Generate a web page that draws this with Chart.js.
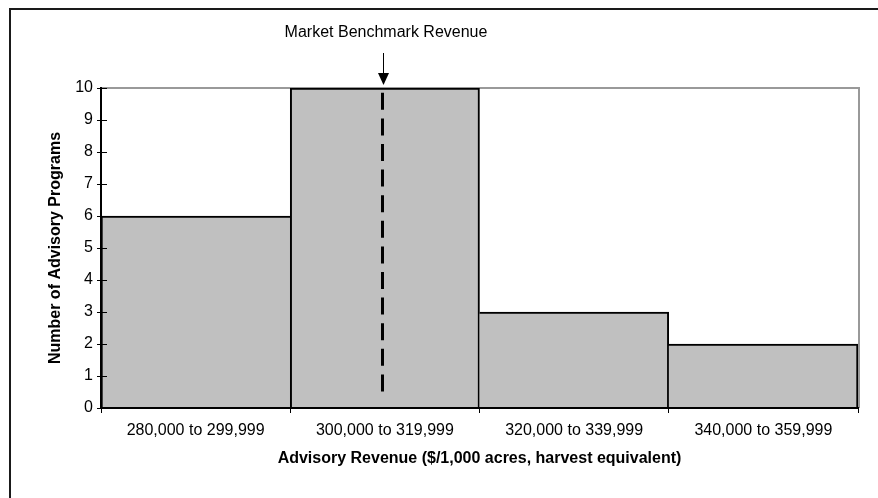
<!DOCTYPE html>
<html>
<head>
<meta charset="utf-8">
<script src="https://cdn.jsdelivr.net/npm/chart.js@4/dist/chart.umd.min.js"></script>
<style>
  html, body { margin: 0; padding: 0; background: #ffffff; }
  #wrap { width: 878px; height: 498px; }
</style>
</head>
<body>
<div id="wrap"><canvas id="c" width="878" height="498"></canvas></div>
<script>
// ---- data ----
const binLabels = ['280,000 to 299,999', '300,000 to 319,999', '320,000 to 339,999', '340,000 to 359,999'];
const programCounts = [6, 10, 3, 2];
const revenueRange = [280000, 360000];
const yRange = [0, 10];
const benchmarkRevenue = 309800;
const benchmarkLineY = [9.85, 0.5];
const benchmarkLabel = 'Market Benchmark Revenue';
const xTitle = 'Advisory Revenue ($/1,000 acres, harvest equivalent)';
const yTitle = 'Number of Advisory Programs';

const FONT = '"Liberation Sans", Arial, Helvetica, sans-serif';

// position of a revenue value on the category scale (bin i is centred on index i)
function revenueToIndex(v) {
  const binWidth = (revenueRange[1] - revenueRange[0]) / binLabels.length;
  return (v - revenueRange[0]) / binWidth - 0.5;
}

const frame = {
  id: 'frame',
  beforeDraw(chart) {
    const ctx = chart.ctx;
    ctx.save();
    ctx.fillStyle = '#ffffff';
    ctx.fillRect(0, 0, chart.width, chart.height);
    ctx.strokeStyle = '#1a1a1a';
    ctx.lineWidth = 2;
    ctx.beginPath();
    ctx.moveTo(10, chart.height);
    ctx.lineTo(10, 9);
    ctx.lineTo(chart.width, 9);
    ctx.stroke();
    ctx.restore();
  },
  beforeDatasetsDraw(chart) {
    const ctx = chart.ctx, a = chart.chartArea;
    ctx.save();
    ctx.strokeStyle = '#999999';
    ctx.lineWidth = 2;
    ctx.beginPath();
    ctx.moveTo(a.left, a.top);
    ctx.lineTo(a.right + 1, a.top);
    ctx.lineTo(a.right + 1, a.bottom);
    ctx.stroke();
    ctx.restore();
  },
  afterDatasetsDraw(chart) {
    const ctx = chart.ctx, a = chart.chartArea, ys = chart.scales.y, xs = chart.scales.x;
    ctx.save();
    // inner half of the crossing y ticks
    ctx.strokeStyle = '#000000';
    ctx.lineWidth = 1;
    ys.ticks.forEach(t => {
      const py = Math.round(ys.getPixelForValue(t.value)) + 0.5;
      ctx.beginPath();
      ctx.moveTo(a.left, py);
      ctx.lineTo(a.left + 6, py);
      ctx.stroke();
    });
    // dashed benchmark line
    const bx = Math.round(xs.getPixelForValue(revenueToIndex(benchmarkRevenue)));
    ctx.lineWidth = 3;
    ctx.lineCap = 'butt';
    ctx.setLineDash([17, 8.6]);
    ctx.beginPath();
    ctx.moveTo(bx - 0.5, ys.getPixelForValue(benchmarkLineY[0]));
    ctx.lineTo(bx - 0.5, ys.getPixelForValue(benchmarkLineY[1]));
    ctx.stroke();
    ctx.restore();
  },
  afterDraw(chart) {
    const ctx = chart.ctx, a = chart.chartArea;
    const bx = Math.round(chart.scales.x.getPixelForValue(revenueToIndex(benchmarkRevenue))) + 0.5;
    ctx.save();
    ctx.strokeStyle = '#000000';
    ctx.fillStyle = '#000000';
    ctx.lineWidth = 1;
    ctx.beginPath();
    ctx.moveTo(bx, a.top - 35);
    ctx.lineTo(bx, a.top - 14);
    ctx.stroke();
    ctx.beginPath();
    ctx.moveTo(bx - 5.5, a.top - 15);
    ctx.lineTo(bx + 5.5, a.top - 15);
    ctx.lineTo(bx, a.top - 3);
    ctx.closePath();
    ctx.fill();
    ctx.font = '16px ' + FONT;
    ctx.textAlign = 'center';
    ctx.textBaseline = 'alphabetic';
    ctx.fillText(benchmarkLabel, bx + 2.5, a.top - 51);
    ctx.restore();
  }
};

new Chart(document.getElementById('c'), {
  type: 'bar',
  data: {
    labels: binLabels,
    datasets: [
      {
        data: programCounts,
        backgroundColor: '#c0c0c0',
        borderColor: '#000000',
        borderWidth: (c) => {
          const i = c.dataIndex, v = programCounts;
          return {
            top: 2,
            bottom: 0,
            left: (i === 0 || v[i] > v[i - 1]) ? 2 : 0,
            right: (i === v.length - 1 || v[i] >= v[i + 1]) ? 2 : 0
          };
        },
        borderSkipped: 'start',
        barPercentage: 1,
        categoryPercentage: 1
      }
    ]
  },
  options: {
    responsive: false,
    animation: false,
    devicePixelRatio: 1,
    layout: { padding: { left: 46.4, right: 20, top: 88, bottom: 30 } },
    plugins: { legend: { display: false }, tooltip: { enabled: false }, title: { display: false } },
    scales: {
      x: {
        type: 'category',
        position: 'bottom',
        offset: true,
        grid: { offset: true, drawOnChartArea: false, drawTicks: true, tickLength: 5, color: '#000000', lineWidth: 1 },
        border: { display: true, color: '#000000', width: 2, z: 1 },
        ticks: { color: '#000000', font: { family: FONT, size: 16 }, padding: 8, maxRotation: 0, autoSkip: false },
        title: { display: true, text: xTitle, color: '#000000', font: { family: FONT, size: 16, weight: 'bold' }, padding: { top: 0, bottom: 0 } },
        afterFit(s) { s.height = 60; }
      },
      y: {
        type: 'linear',
        min: yRange[0],
        max: yRange[1],
        grid: { drawOnChartArea: false, drawTicks: true, tickLength: 4, color: '#000000', lineWidth: 1 },
        border: { display: true, color: '#000000', width: 2, z: 1 },
        ticks: { stepSize: 1, color: '#000000', font: { family: FONT, size: 16 }, padding: 4 },
        title: { display: true, text: yTitle, color: '#000000', font: { family: FONT, size: 16, weight: 'bold' }, padding: { top: 0, bottom: 0 } },
        afterFit(s) { s.width = 54.6; }
      }
    }
  },
  plugins: [frame]
});
</script>
</body>
</html>
